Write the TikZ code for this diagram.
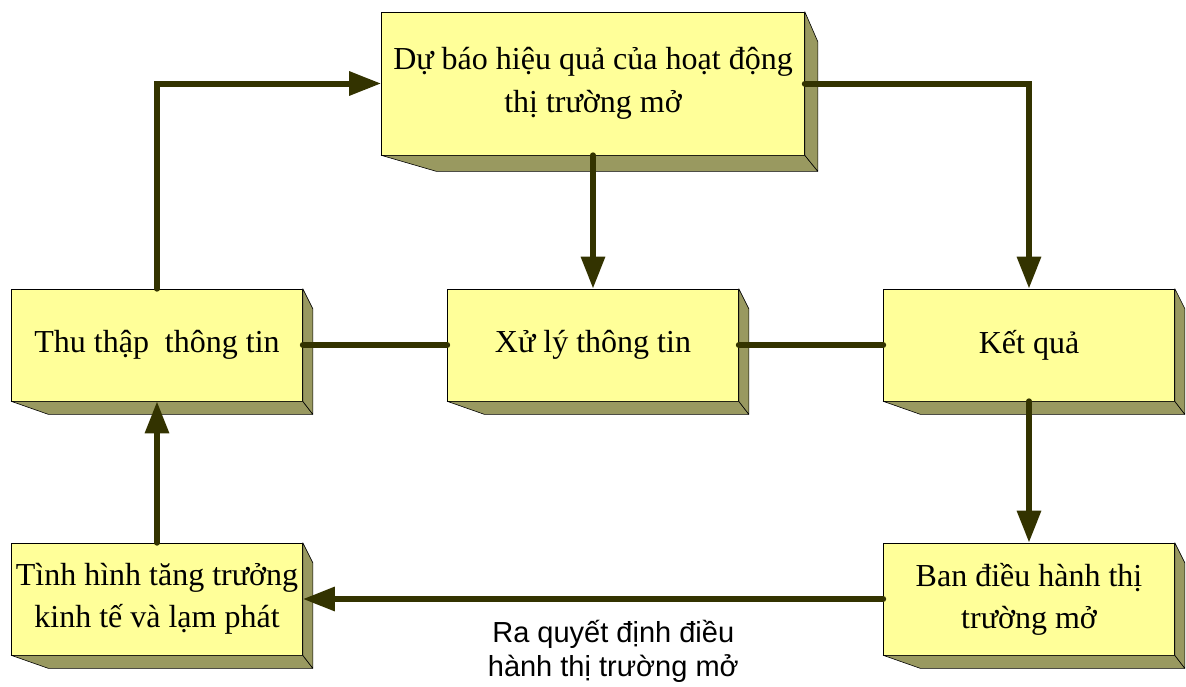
\documentclass[tikz,border=0pt]{standalone}
\usepackage{fontspec}
\setmainfont{Liberation Serif}
\newfontfamily\labelfont{Liberation Sans}
\usetikzlibrary{positioning,calc,arrows.meta}

\definecolor{boxfront}{RGB}{255,255,153}
\definecolor{boxside}{RGB}{153,153,96}
\definecolor{flowline}{RGB}{51,51,0}

\tikzset{
  block/.style={draw=black, line width=0.6pt, fill=boxfront, inner sep=0pt, align=center,
    minimum width=291pt, minimum height=112pt, font=\fontsize{32}{42}\selectfont},
  side/.style={draw=black, line width=0.6pt, fill=boxside, line join=round},
  flow/.style={draw=flowline, line width=6pt, line cap=round},
}

\begin{document}
\begin{tikzpicture}[x=1pt, y=-1pt, >={Triangle[length=32pt,width=23pt]}]
  \useasboundingbox (0,0) rectangle (1186,686);

  \node[block, minimum width=423pt, minimum height=143pt, font=\fontsize{32}{43}\selectfont]
    (forecast) at (593,83.5) {Dự báo hiệu quả của hoạt động\\thị trường mở};
  \node[block] (collect) at (157,345) {Thu thập\ \ thông tin};
  \node[block] (process) at (593,345) {Xử lý thông tin};
  \node[block] (result) at (1029,345) {Kết quả};
  \node[block] (growth) at (157,599) {Tình hình tăng trưởng\\kinh tế và lạm phát};
  \node[block] (board) at (1029,599) {Ban điều hành thị\\trường mở};

  % extruded sides
  \foreach \nd/\dx/\dy/\dt/\dl in {forecast/13/16/30/55, collect/10/13/20/37, process/10/13/20/37,
      result/10/13/20/37, growth/10/13/20/37, board/10/13/20/37}
  {
    \draw[side] (\nd.south west) -- ++(\dl,\dy) -- ($(\nd.south east)+(\dx,\dy)$) -- (\nd.south east) -- cycle;
    \draw[side] (\nd.north east) -- ++(\dx,\dt) -- ($(\nd.south east)+(\dx,\dy)$) -- (\nd.south east) -- cycle;
  }

  \draw[flow, ->] (collect.north) |- (forecast.west);
  \draw[flow, ->] (forecast.east) -| (result.north);
  \draw[flow, ->] (forecast.south) -- (process.north);
  \draw[flow] (collect.east) -- (process.west);
  \draw[flow] (process.east) -- (result.west);
  \draw[flow, ->] (result.south) -- (board.north);
  \draw[flow, ->] (board.west) -- (growth.east)
    node[pos=0.465, below=15pt, text=black, align=center,
      font=\labelfont\fontsize{29}{34}\selectfont] {Ra quyết định điều\\hành thị trường mở};
  \draw[flow, ->] (growth.north) -- (collect.south);
\end{tikzpicture}
\end{document}
